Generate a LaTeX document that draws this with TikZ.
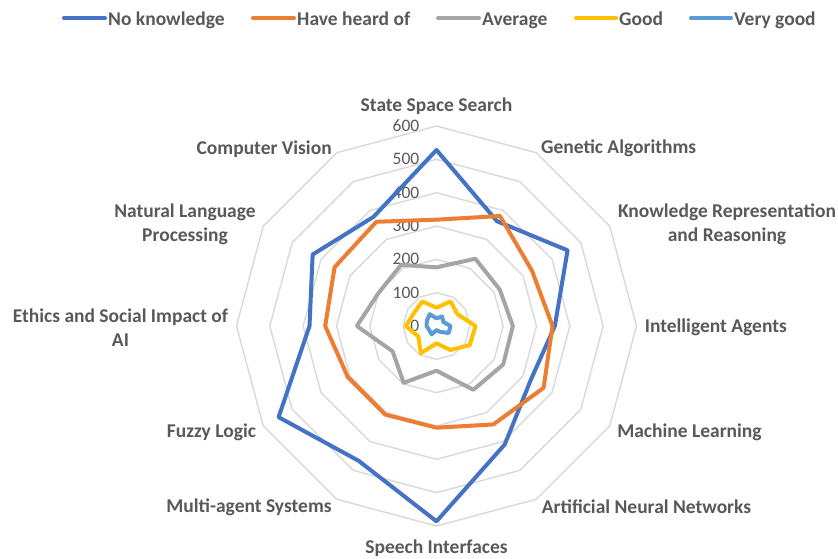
\documentclass[tikz,border=0pt]{standalone}
\usepackage{fontspec}
\setmainfont{Carlito}

\definecolor{nkblue}{HTML}{4472C4}
\definecolor{hhorange}{HTML}{ED7D31}
\definecolor{avgray}{HTML}{A5A5A5}
\definecolor{gdyellow}{HTML}{FFC000}
\definecolor{vglblue}{HTML}{5B9BD5}
\definecolor{ringgray}{HTML}{D9D9D9}
\definecolor{textgray}{HTML}{595959}

\tikzset{
  ring/.style={draw=ringgray, line width=1.4pt, line join=round},
  series/.style={line width=4pt, line join=round},
  legend key/.style={line width=4pt, line cap=round},
  axis label/.style={font=\fontsize{19.5}{24}\selectfont\bfseries, text=textgray, align=center, inner sep=0pt},
  legend label/.style={font=\fontsize{19.5}{24}\selectfont\bfseries, text=textgray, inner sep=0pt, anchor=base west},
  tick label/.style={font=\fontsize{17.5}{20}\selectfont, text=textgray, inner sep=0pt, anchor=east},
}

% one polygon of the radar chart: name, colour, twelve values
\newcommand{\radarseries}[3]{%
  \foreach \v [count=\i from 0] in {#3} {\coordinate (#1-\i) at ({90-30*\i}:{\v/3});}
  \draw[series, #2] (#1-0) \foreach \i in {1,...,11} {-- (#1-\i)} -- cycle;
}

\begin{document}
\begin{tikzpicture}[x=1pt, y=1pt]
\useasboundingbox[fill=white] (-436.5,-232) rectangle (401.5,326);

% grid rings
\foreach \k in {1,...,6}
  \draw[ring] (90:{\k*100/3}) \foreach \a in {1,...,11} {-- ({90-30*\a}:{\k*100/3})} -- cycle;

% scale
\foreach \t in {0,100,...,600}
  \node[tick label] (tick\t) at (-17,{\t/3}) {\t};

% series
\radarseries{nk}{nkblue}{528,363,454,355,326,410,586,467,547,381,429,378}
\radarseries{hh}{hhorange}{319,381,331,348,371,341,305,307,307,334,353,361}
\radarseries{avg}{avgray}{176,233,219,229,231,221,134,197,152,239,200,212}
\radarseries{gd}{gdyellow}{55,85,72,117,115,83,52,94,63,92,78,85}
\radarseries{vg}{vglblue}{23,33,24,42,42,20,12,29,25,30,33,41}

% axis labels
\node[axis label] (sss) at (0,220) {State Space Search};
\node[axis label] (ga) at (182.2,178) {Genetic Algorithms};
\node[axis label] (krr) at (290.5,102) {Knowledge Representation\\and Reasoning};
\node[axis label] (ia) at (279.3,-1) {Intelligent Agents};
\node[axis label] (ml) at (253,-106) {Machine Learning};
\node[axis label] (ann) at (210,-181) {Artificial Neural Networks};
\node[axis label] (si) at (0,-222) {Speech Interfaces};
\node[axis label] (mas) at (-187.5,-181) {Multi-agent Systems};
\node[axis label] (fl) at (-225,-106) {Fuzzy Logic};
\node[axis label] (eth) at (-316,-1.3) {Ethics and Social Impact of\\AI};
\node[axis label] (nlp) at (-251.5,102) {Natural Language\\Processing};
\node[axis label] (cv) at (-172.3,177.3) {Computer Vision};

% legend
\node[legend label] (lg1) at (-328.5,301) {No knowledge};
\node[legend label] (lg2) at (-139.5,301) {Have heard of};
\node[legend label] (lg3) at (45.5,301) {Average};
\node[legend label] (lg4) at (182.5,301) {Good};
\node[legend label] (lg5) at (297.5,301) {Very good};
\coordinate (lk1) at (-372.5,307.7);
\coordinate (lk2) at (-183.5,307.7);
\coordinate (lk3) at (1.5,307.7);
\coordinate (lk4) at (139.5,307.7);
\coordinate (lk5) at (254.5,307.7);
\draw[legend key, nkblue] (lk1) -- ([xshift=-3pt]lk1 -| lg1.west);
\draw[legend key, hhorange] (lk2) -- ([xshift=-3pt]lk2 -| lg2.west);
\draw[legend key, avgray] (lk3) -- ([xshift=-3pt]lk3 -| lg3.west);
\draw[legend key, gdyellow] (lk4) -- ([xshift=-3pt]lk4 -| lg4.west);
\draw[legend key, vglblue] (lk5) -- ([xshift=-3pt]lk5 -| lg5.west);
\end{tikzpicture}
\end{document}
